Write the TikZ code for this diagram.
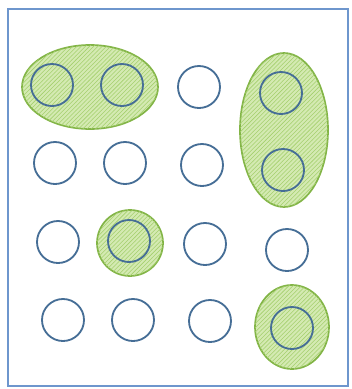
\documentclass[tikz,border=0pt]{standalone}
\usepackage{tikz}
\usetikzlibrary{patterns}
\definecolor{framecol}{RGB}{110,150,205}
\definecolor{dotcol}{RGB}{70,110,150}
\definecolor{grpline}{RGB}{130,180,70}
\definecolor{grpfill}{RGB}{212,234,178}
\definecolor{grphatch}{RGB}{165,208,110}
\tikzset{
  frame/.style={draw=framecol,line width=1.4pt},
  dot/.style={circle,draw=dotcol,line width=1.3pt,minimum size=1.05cm,inner sep=0pt},
  group/.style={draw=grpline,line width=1.2pt,fill=grpfill,
    postaction={pattern=north east lines,pattern color=grphatch}}
}

\begin{document}
\begin{tikzpicture}[x=0.025cm,y=-0.025cm]
    \useasboundingbox (0,0) rectangle (352,389);
    \draw[frame] (8,9) rectangle (348,386);
    % groups
    \draw[group] (90,87) ellipse [x radius=68,y radius=42];
    \draw[group] (284,130) ellipse [x radius=44,y radius=77];
    \draw[group] (130,243) circle [radius=33];
    \draw[group] (292,327) ellipse [x radius=37,y radius=42];
    % dots, row by row
    \node[dot] (a1) at (52,85) {};  \node[dot] (a2) at (122,85) {};
    \node[dot] (a3) at (199,87) {}; \node[dot] (a4) at (281,93) {};
    \node[dot] (b1) at (55,163) {}; \node[dot] (b2) at (125,163) {};
    \node[dot] (b3) at (202,165) {};\node[dot] (b4) at (283,170) {};
    \node[dot] (c1) at (58,242) {}; \node[dot] (c2) at (129,241) {};
    \node[dot] (c3) at (205,244) {};\node[dot] (c4) at (287,250) {};
    \node[dot] (d1) at (63,320) {}; \node[dot] (d2) at (133,320) {};
    \node[dot] (d3) at (210,321) {};\node[dot] (d4) at (292,328) {};
  \end{tikzpicture}
\end{document}
